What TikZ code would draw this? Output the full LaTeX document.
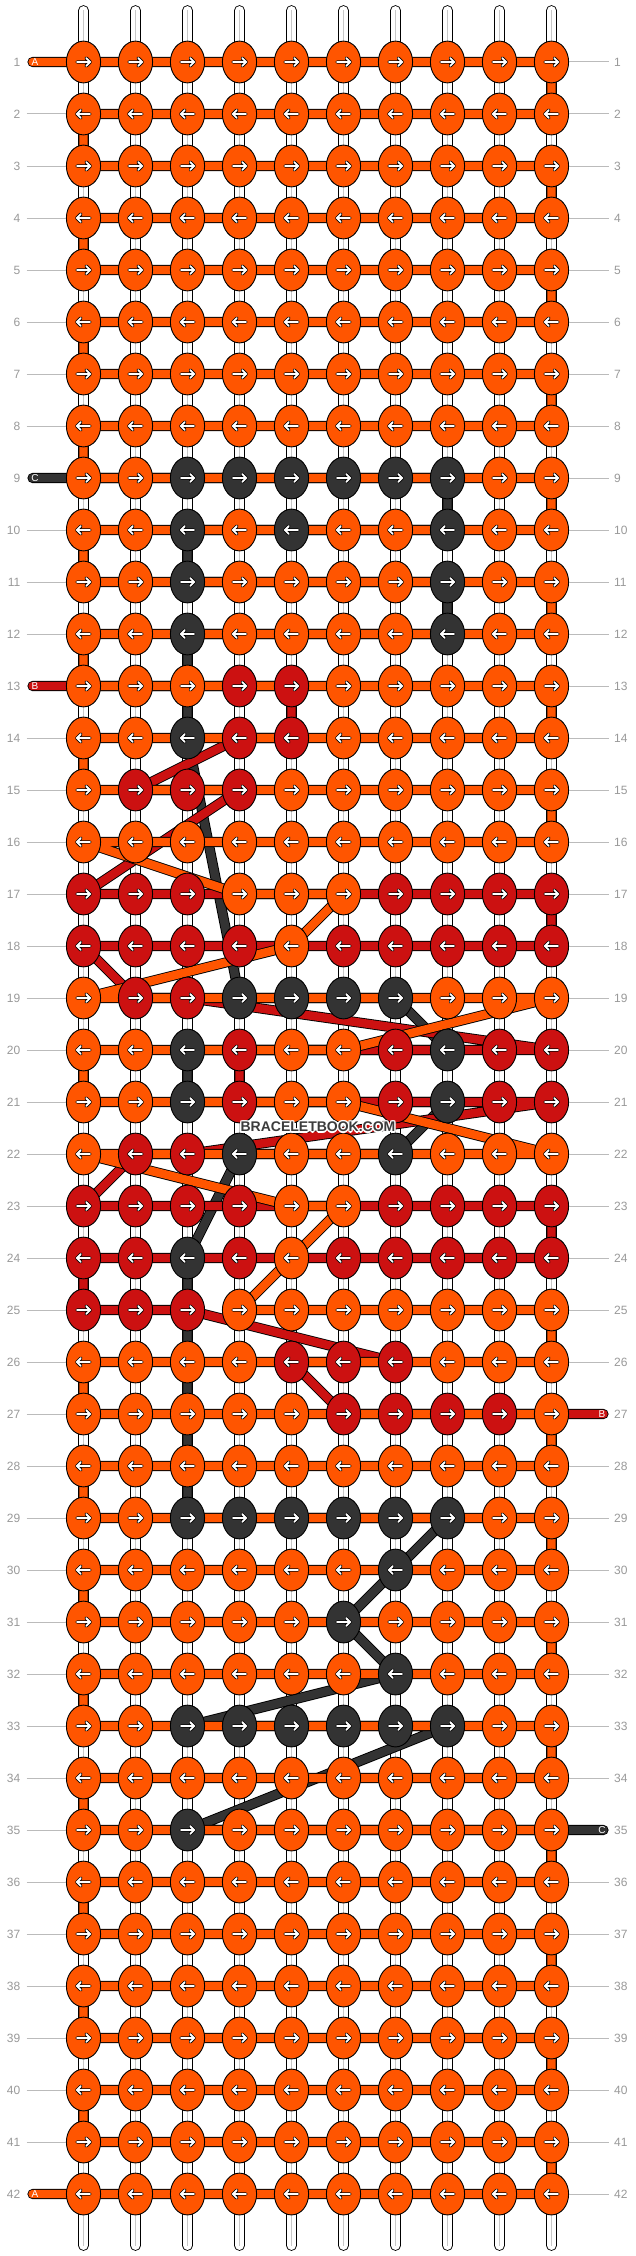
\documentclass[tikz,border=0pt]{standalone}
\usepackage{fontspec}
\setmainfont{Liberation Sans}
\usetikzlibrary{shapes.geometric}
\definecolor{cO}{HTML}{FF5500}
\definecolor{cR}{HTML}{CC1111}
\definecolor{cD}{HTML}{333333}
\definecolor{lblgray}{HTML}{999999}
\definecolor{linegray}{HTML}{BBBBBB}
\definecolor{warpmid}{HTML}{C8C8C8}
\definecolor{wmcol}{HTML}{3C3C3C}
\newcommand{\halotxt}[1]{\setbox0\hbox{#1}%
  \rlap{\color{white}\kern-1.2pt\copy0}%
  \rlap{\color{white}\kern1.2pt\copy0}%
  \rlap{\color{white}\raise1.2pt\copy0}%
  \rlap{\color{white}\lower1.2pt\copy0}%
  \rlap{\color{white}\kern-1pt\raise1pt\copy0}%
  \rlap{\color{white}\kern1pt\raise1pt\copy0}%
  \rlap{\color{white}\kern-1pt\lower1pt\copy0}%
  \rlap{\color{white}\kern1pt\lower1pt\copy0}%
  {\color{wmcol}\box0}}
\begin{document}
\begin{tikzpicture}[x=1pt,y=-1pt,
  thread/.style={line width=0.9pt,double distance=8.4pt,line cap=round,line join=round},
  thrO/.style={thread,double=cO},
  thrR/.style={thread,double=cR},
  thrD/.style={thread,double=cD},
  warp/.style={line width=0.9pt,double=white,double distance=8.9pt,line cap=round},
  warpline/.style={line width=1.6pt,warpmid},
  knot/.style={ellipse,draw=black,line width=0.9pt,minimum width=34.2pt,minimum height=41.8pt,inner sep=0pt},
  arrowmark/.style={line width=0.75pt,double=white,double distance=1.9pt,line cap=round,line join=round},
  rownum/.style={font=\fontsize{12}{12}\selectfont,text=lblgray,inner sep=0pt},
  labline/.style={linegray,line width=1pt},
  stubletter/.style={font=\fontsize{10}{10}\selectfont,text=white,inner sep=0pt},
  watermark/.style={font=\fontsize{14}{14}\selectfont\bfseries,inner sep=0pt}
]
\fill[white] (0,0) rectangle (636,2256);
\useasboundingbox (0,0) rectangle (636,2256);
% knot positions
\foreach \r in {1,...,42}{
  \foreach \c in {1,...,10}{
    \coordinate (p\r-\c) at ({83.5+52*(\c-1)},{62+52*(\r-1)});
  }
}
% warp strings
\foreach \c in {1,...,10}{
  \coordinate (wt\c) at ({83.5+52*(\c-1)},10.5);
  \coordinate (wb\c) at ({83.5+52*(\c-1)},2245.5);
  \draw[warp] (wt\c) -- (wb\c);
  \draw[warpline] (wt\c) -- (wb\c);
}
% thread ends
\coordinate (sA1) at (32.5,62);
\coordinate (sC9) at (32.5,478);
\coordinate (sB13) at (32.5,686);
\coordinate (sA42) at (32.5,2194);
\coordinate (sB27) at (603.5,1414);
\coordinate (sC35) at (603.5,1830);
% thread C (dark)
\draw[thrD] (sC9) -- (p9-3) -- (p9-8) -- (p10-8) -- (p10-3) -- (p11-3) -- (p11-8) -- (p12-8) -- (p12-3)
  -- (p14-3) -- (p19-4) -- (p19-7) -- (p20-8) -- (p20-3) -- (p21-3) -- (p21-8) -- (p22-7) -- (p22-4)
  -- (p24-3) -- (p29-3) -- (p29-8) -- (p30-7) -- (p31-6) -- (p32-7) -- (p33-3) -- (p33-8) -- (p35-3) -- (sC35);
% thread B (red)
\draw[thrR] (sB13) -- (p13-4) -- (p13-5) -- (p14-5) -- (p14-4) -- (p15-2) -- (p15-4) -- (p17-1) -- (p17-10)
  -- (p18-10) -- (p18-1) -- (p19-2) -- (p19-3) -- (p20-10) -- (p20-4) -- (p21-4) -- (p21-10) -- (p22-3)
  -- (p22-2) -- (p23-1) -- (p23-10) -- (p24-10) -- (p24-1) -- (p25-1) -- (p25-3) -- (p26-7) -- (p26-5)
  -- (p27-6) -- (p27-9) -- (sB27);
% thread A (orange)
\draw[thrO] (sA1) -- (p1-1) -- (p1-10) -- (p2-10) -- (p2-1) -- (p3-1) -- (p3-10) -- (p4-10) -- (p4-1)
  -- (p5-1) -- (p5-10) -- (p6-10) -- (p6-1) -- (p7-1) -- (p7-10) -- (p8-10) -- (p8-1)
  -- (p9-1) -- (p9-10) -- (p10-10) -- (p10-1) -- (p11-1) -- (p11-10) -- (p12-10) -- (p12-1)
  -- (p13-1) -- (p13-10) -- (p14-10) -- (p14-1) -- (p15-1) -- (p15-10) -- (p16-10) -- (p16-1)
  -- (p17-4) -- (p17-6) -- (p18-5) -- (p19-1) -- (p19-10) -- (p20-6) -- (p20-1) -- (p21-1) -- (p21-6)
  -- (p22-10) -- (p22-1) -- (p23-5) -- (p23-6) -- (p24-5) -- (p25-4) -- (p25-10) -- (p26-10) -- (p26-1)
  -- (p27-1) -- (p27-10) -- (p28-10) -- (p28-1) -- (p29-1) -- (p29-10) -- (p30-10) -- (p30-1)
  -- (p31-1) -- (p31-10) -- (p32-10) -- (p32-1) -- (p33-1) -- (p33-10) -- (p34-10) -- (p34-1)
  -- (p35-1) -- (p35-10) -- (p36-10) -- (p36-1) -- (p37-1) -- (p37-10) -- (p38-10) -- (p38-1)
  -- (p39-1) -- (p39-10) -- (p40-10) -- (p40-1) -- (p41-1) -- (p41-10) -- (p42-10) -- (p42-1) -- (sA42);
% knots
\foreach \r/\s in {
 1/{O,O,O,O,O,O,O,O,O,O}, 2/{O,O,O,O,O,O,O,O,O,O}, 3/{O,O,O,O,O,O,O,O,O,O},
 4/{O,O,O,O,O,O,O,O,O,O}, 5/{O,O,O,O,O,O,O,O,O,O}, 6/{O,O,O,O,O,O,O,O,O,O},
 7/{O,O,O,O,O,O,O,O,O,O}, 8/{O,O,O,O,O,O,O,O,O,O}, 9/{O,O,D,D,D,D,D,D,O,O},
 10/{O,O,D,O,D,O,O,D,O,O}, 11/{O,O,D,O,O,O,O,D,O,O}, 12/{O,O,D,O,O,O,O,D,O,O},
 13/{O,O,O,R,R,O,O,O,O,O}, 14/{O,O,D,R,R,O,O,O,O,O}, 15/{O,R,R,R,O,O,O,O,O,O},
 16/{O,O,O,O,O,O,O,O,O,O}, 17/{R,R,R,O,O,O,R,R,R,R}, 18/{R,R,R,R,O,R,R,R,R,R},
 19/{O,R,R,D,D,D,D,O,O,O}, 20/{O,O,D,R,O,O,R,D,R,R}, 21/{O,O,D,R,O,O,R,D,R,R},
 22/{O,R,R,D,O,O,D,O,O,O}, 23/{R,R,R,R,O,O,R,R,R,R}, 24/{R,R,D,R,O,R,R,R,R,R},
 25/{R,R,R,O,O,O,O,O,O,O}, 26/{O,O,O,O,R,R,R,O,O,O}, 27/{O,O,O,O,O,R,R,R,R,O},
 28/{O,O,O,O,O,O,O,O,O,O}, 29/{O,O,D,D,D,D,D,D,O,O}, 30/{O,O,O,O,O,O,D,O,O,O},
 31/{O,O,O,O,O,D,O,O,O,O}, 32/{O,O,O,O,O,O,D,O,O,O}, 33/{O,O,D,D,D,D,D,D,O,O},
 34/{O,O,O,O,O,O,O,O,O,O}, 35/{O,O,D,O,O,O,O,O,O,O}, 36/{O,O,O,O,O,O,O,O,O,O},
 37/{O,O,O,O,O,O,O,O,O,O}, 38/{O,O,O,O,O,O,O,O,O,O}, 39/{O,O,O,O,O,O,O,O,O,O},
 40/{O,O,O,O,O,O,O,O,O,O}, 41/{O,O,O,O,O,O,O,O,O,O}, 42/{O,O,O,O,O,O,O,O,O,O}}{
  \foreach \k [count=\c] in \s {
    \node[knot,fill=c\k] (k\r-\c) at (p\r-\c) {};
    \ifodd\r\def\d{1}\else\def\d{-1}\fi
    \begin{scope}[shift={(p\r-\c)},xscale=\d]
      \draw[arrowmark] (-6.4,0) -- (6.6,0) (2.7,-3.9) -- (6.6,0) -- (2.7,3.9);
    \end{scope}
  }
}
% row numbers
\foreach \r in {1,...,42}{
  \node[rownum,anchor=east] (ll\r) at (20.5,{62+52*(\r-1)}) {\r};
  \node[rownum,anchor=west] (lr\r) at (614,{62+52*(\r-1)}) {\r};
}
\foreach \r in {2,3,...,8,10,11,12,14,15,...,41}{
  \draw[labline] ([xshift=6pt]ll\r.east) -- (k\r-1.west);
}
\foreach \r in {1,2,...,26,28,29,...,34,36,37,...,42}{
  \draw[labline] (k\r-10.east) -- ([xshift=-5pt]lr\r.west);
}
% thread letters
\node[stubletter] (tA1) at (35,62) {A};
\node[stubletter] (tC9) at (35,478) {C};
\node[stubletter] (tB13) at (35,686) {B};
\node[stubletter] (tA42) at (35,2194) {A};
\node[stubletter] (tB27) at (602,1414) {B};
\node[stubletter] (tC35) at (602,1830) {C};
% watermark
\node[watermark] (wm) at (318,1127) {\halotxt{BRACELETBOOK.COM}};
\end{tikzpicture}
\end{document}
